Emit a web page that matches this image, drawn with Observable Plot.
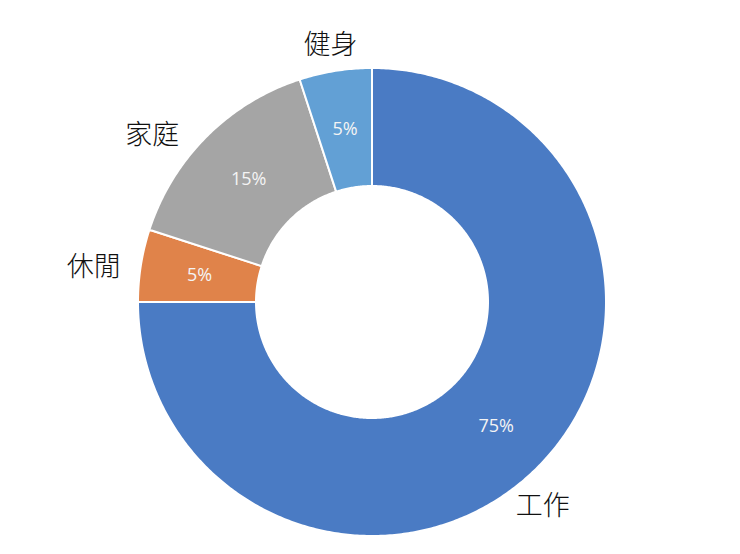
<!DOCTYPE html>
<html>
<head>
<meta charset="utf-8">
<script src="https://cdn.jsdelivr.net/npm/d3@7"></script>
<script src="https://cdn.jsdelivr.net/npm/@observablehq/plot@0.6"></script>
<style>
  html, body { margin: 0; padding: 0; background: #fff; }
  #chart svg { display: block; }
</style>
</head>
<body>
<div id="chart"></div>
<script>
// ---- data ----
const categories = ["工作", "休閒", "家庭", "健身"];
const values = [75, 5, 15, 5];
const colors = ["#4a7bc4", "#e0834a", "#a5a5a5", "#62a0d5"];

// ---- layout (pixels) ----
const W = 740, H = 554;
const cx = 372, cy = 302;          // centre of the ring in the window
const rOuter = 234, rInner = 116;
const labelR = 262;
const labelNudge = {"工作": [-15, -19], "休閒": [-20, -6], "家庭": [-35, -18], "健身": [-1, -2]};

const total = d3.sum(values);
const ends = d3.cumsum(values);
const slices = categories.map((c, i) => {
  const a0 = (ends[i] - values[i]) / total * 2 * Math.PI;
  const a1 = ends[i] / total * 2 * Math.PI;
  return {cat: c, value: values[i], a0, a1, mid: (a0 + a1) / 2};
});

// annular sectors as area bands (inner arc -> outer arc)
const ring = slices.flatMap(s => {
  const n = Math.max(8, Math.ceil((s.a1 - s.a0) / 0.01));
  return d3.range(n + 1).map(k => {
    const a = s.a0 + (s.a1 - s.a0) * k / n;
    return {cat: s.cat,
      x1: rInner * Math.sin(a), y1: rInner * Math.cos(a),
      x2: rOuter * Math.sin(a), y2: rOuter * Math.cos(a)};
  });
});

const pct = slices.map(s => {
  const r = (rInner + rOuter) / 2;
  return {text: s.value + "%", x: r * Math.sin(s.mid), y: r * Math.cos(s.mid)};
});
const names = slices.map(s => {
  const [ndx, ndy] = labelNudge[s.cat];
  return {text: s.cat, x: labelR * Math.sin(s.mid) + ndx, y: labelR * Math.cos(s.mid) + ndy};
});

const chart = Plot.plot({
  width: W, height: H, margin: 0,
  x: {domain: [-cx, W - cx], axis: null},
  y: {domain: [-(H - cy), cy], axis: null},
  color: {domain: categories, range: colors},
  marks: [
    Plot.area(ring, {x1: "x1", y1: "y1", x2: "x2", y2: "y2", z: "cat", fill: "cat",
      stroke: "white", strokeWidth: 2, strokeLinejoin: "round"}),
    Plot.text(pct, {x: "x", y: "y", text: "text", fill: "#f4f4f4", fontSize: 18,
      fontFamily: "'Open Sans', 'Noto Sans', sans-serif"}),
    Plot.text(names, {x: "x", y: "y", text: "text", fill: "#111", fontSize: 27, fontWeight: 300,
      fontFamily: "'Noto Sans CJK TC', 'Noto Sans CJK SC', sans-serif"})
  ]
});
document.getElementById("chart").append(chart);
</script>
</body>
</html>
